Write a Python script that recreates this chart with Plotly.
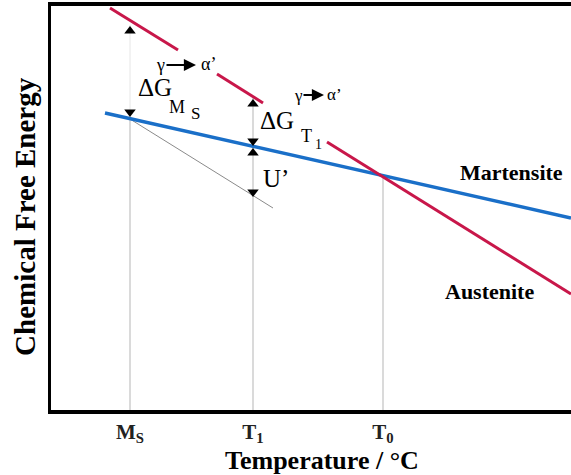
import plotly.graph_objects as go

# Values (temperature / energy in arbitrary units, origin at lower-left of frame)
austenite_T = [59, 127, None, 166, 212, None, 276, 520]
austenite_E = [402, 360, None, 336, 307, None, 268, 116]
martensite_T = [54, 520]
martensite_E = [297, 192]
shifted_T = [79, 222]
shifted_E = [291, 202]

tick_vals = [79, 202, 332]
tick_text = ["<b>M<sub>S</sub></b>", "<b>T<sub>1</sub></b>", "<b>T<sub>0</sub></b>"]

guide_T = [79, 202, 332]
guide_top = [291, 312, 233]
faint_T = [79]
faint_bottom = [291]
faint_top = [385]

arrow_up_T = [79, 202, 202]
arrow_up_E = [379, 306, 257]
arrow_dn_T = [79, 202, 202]
arrow_dn_E = [298, 269, 218]

SERIF = "Liberation Serif, Times New Roman, serif"
RED = "#c8174a"
BLUE = "#1a6fc8"

fig = go.Figure()

# guide verticals
for t, top in zip(guide_T, guide_top):
    fig.add_trace(go.Scatter(x=[t, t], y=[0, top], mode="lines",
                             line=dict(color="#b5b5b5", width=1), hoverinfo="skip"))
for t, b, top in zip(faint_T, faint_bottom, faint_top):
    fig.add_trace(go.Scatter(x=[t, t], y=[b, top], mode="lines",
                             line=dict(color="#e6e6e6", width=1), hoverinfo="skip"))

fig.add_trace(go.Scatter(x=shifted_T, y=shifted_E, mode="lines",
                         line=dict(color="#8a8a8a", width=1), hoverinfo="skip"))
fig.add_trace(go.Scatter(x=martensite_T, y=martensite_E, mode="lines", name="Martensite",
                         line=dict(color=BLUE, width=3.5)))
fig.add_trace(go.Scatter(x=austenite_T, y=austenite_E, mode="lines", name="Austenite",
                         line=dict(color=RED, width=3), connectgaps=False))

fig.add_trace(go.Scatter(x=arrow_up_T, y=arrow_up_E, mode="markers",
                         marker=dict(symbol="triangle-up", size=10, color="black"), hoverinfo="skip"))
fig.add_trace(go.Scatter(x=arrow_dn_T, y=arrow_dn_E, mode="markers",
                         marker=dict(symbol="triangle-down", size=10, color="black"), hoverinfo="skip"))

ann = []
def txt(x, y, s, size, bold=False):
    ann.append(dict(x=x, y=y, xref="x", yref="y", text=("<b>%s</b>" % s) if bold else s,
                    showarrow=False, font=dict(family=SERIF, size=size, color="black"),
                    xanchor="center", yanchor="middle"))

def arrow(x0, x1, y):
    ann.append(dict(x=x1, y=y, ax=x0, ay=y, xref="x", yref="y", axref="x", ayref="y",
                    text="", showarrow=True, arrowhead=2, arrowsize=1.1, arrowwidth=2.2,
                    arrowcolor="black"))

# Delta G at Ms
txt(104, 323, "ΔG", 25)
txt(109, 345, "γ", 18)
arrow(114, 145, 345)
txt(157, 346, "α’", 18)
txt(126, 303, "M", 18)
txt(144, 297, "S", 17)

# Delta G at T1
txt(226, 290, "ΔG", 25)
txt(247, 315, "γ", 17)
arrow(251, 273, 315)
txt(283, 316, "α’", 17)
txt(255, 274, "T", 18)
txt(267, 266, "1", 14)

txt(225, 232, "U’", 25)
txt(460, 238, "Martensite", 22, bold=True)
txt(438, 119, "Austenite", 22, bold=True)

ann.append(dict(x=0.521, y=-0.124, xref="paper", yref="paper", showarrow=False,
                text="<b>Temperature / °C</b>", font=dict(family=SERIF, size=26, color="black"),
                xanchor="center", yanchor="middle"))
ann.append(dict(x=-0.05, y=0.478, xref="paper", yref="paper", showarrow=False, textangle=-90,
                text="<b>Chemical Free Energy</b>", font=dict(family=SERIF, size=29, color="black"),
                xanchor="center", yanchor="middle"))

fig.update_layout(
    width=571, height=475,
    margin=dict(l=51, r=0, t=6, b=65),
    paper_bgcolor="white", plot_bgcolor="white",
    showlegend=False,
    annotations=ann,
    xaxis=dict(range=[0, 520], showgrid=False, zeroline=False, showline=True, mirror=True,
               linecolor="black", linewidth=3.5, tickvals=tick_vals, ticktext=tick_text,
               ticks="", tickfont=dict(family=SERIF, size=21, color="#222")),
    yaxis=dict(range=[0, 404], showgrid=False, zeroline=False, showline=True, mirror=False,
               linecolor="black", linewidth=3, showticklabels=False, ticks=""),
)

fig.write_html("out.html")
